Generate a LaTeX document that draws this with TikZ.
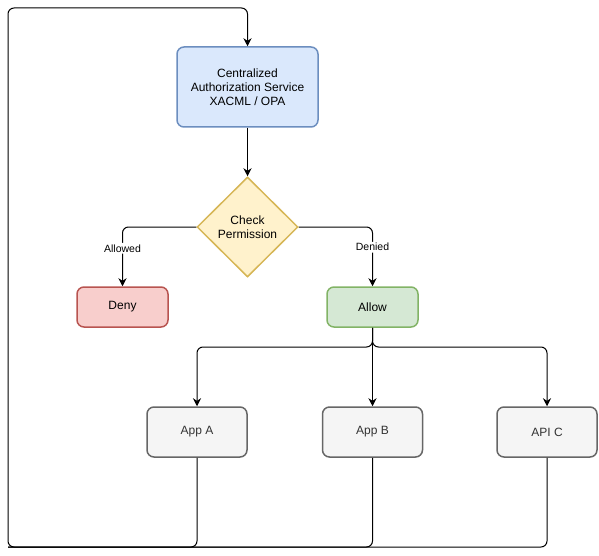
\documentclass[tikz,border=0pt]{standalone}
\usepackage{fontspec}
\setmainfont{Liberation Sans}
\usetikzlibrary{shapes.geometric,arrows.meta}

\definecolor{svcfill}{HTML}{DAE8FC}
\definecolor{svcline}{HTML}{6C8EBF}
\definecolor{chkfill}{HTML}{FFF2CC}
\definecolor{chkline}{HTML}{D6B656}
\definecolor{denyfill}{HTML}{F8CECC}
\definecolor{denyline}{HTML}{B85450}
\definecolor{allowfill}{HTML}{D5E8D4}
\definecolor{allowline}{HTML}{82B366}
\definecolor{appfill}{HTML}{F5F5F5}
\definecolor{appline}{HTML}{666666}
\definecolor{apptext}{HTML}{333333}

\tikzset{
  box/.style={draw, line width=1.5pt, rounded corners=7pt, align=center, font=\fontsize{12}{14}\selectfont},
  app/.style={box, fill=appfill, draw=appline, text=apptext, minimum width=100pt, minimum height=50pt},
  link/.style={line width=1pt, rounded corners=6pt, -{Stealth[length=8pt,width=8pt]}},
  tag/.style={fill=white, inner sep=1.5pt, font=\fontsize{10.5}{12}\selectfont}
}

\begin{document}
\begin{tikzpicture}[x=1pt, y=-1pt]
  \useasboundingbox (0,0) rectangle (599,556); % Fix the margins
  \node[box, fill=svcfill, draw=svcline, minimum width=141pt, minimum height=80pt] (svc) at (247.5,87) {Centralized\\Authorization Service\\XACML / OPA}; % Draw the service
  \node[draw=chkline, fill=chkfill, line width=1.5pt, diamond, minimum width=101pt, minimum height=100pt, inner sep=0pt, align=center, font=\fontsize{12}{14}\selectfont] (chk) at (247.5,227) {Check\\Permission}; % Draw the decision
  \node[box, fill=denyfill, draw=denyline, minimum width=91pt, minimum height=40pt] (deny) at (122.5,307) {Deny}; % Draw the deny box
  \node[box, fill=allowfill, draw=allowline, minimum width=91pt, minimum height=40pt] (allow) at (372.5,307) {Allow}; % Draw the allow box
  \node[app] (appa) at (197,432) {App A}; % Draw the first app
  \node[app] (appb) at (372.5,432) {App B}; % Draw the second app
  \node[app] (apic) at (547,432) {API C}; % Draw the api
  \coordinate (split) at (372.5,347); % Where the allow line splits
  \coordinate (bl) at (8,547); % Bottom left corner of the loop
  \coordinate (tl) at (8,8); % Top left corner of the loop
  \draw[link] (svc) -- (chk); % Service to decision
  \draw[link] (chk.west) -| node[tag, pos=0.68] {Allowed} (deny); % Left branch
  \draw[link] (chk.east) -| node[tag, pos=0.67] {Denied} (allow); % Right branch
  \draw[link] (allow) -- (split) -| (appa); % Allow to the first app
  \draw[link] (allow) -- (appb); % Allow to the second app
  \draw[link] (allow) -- (split) -| (apic); % Allow to the api
  \draw[line width=1pt, rounded corners=6pt] (appb.south) |- (bl); % Second app back
  \draw[line width=1pt, rounded corners=6pt] (apic.south) |- (bl); % Api back
  \draw[link] (appa.south) |- (bl) -- (tl) -| (svc.north); % Loop back to the service
\end{tikzpicture}
\end{document}
